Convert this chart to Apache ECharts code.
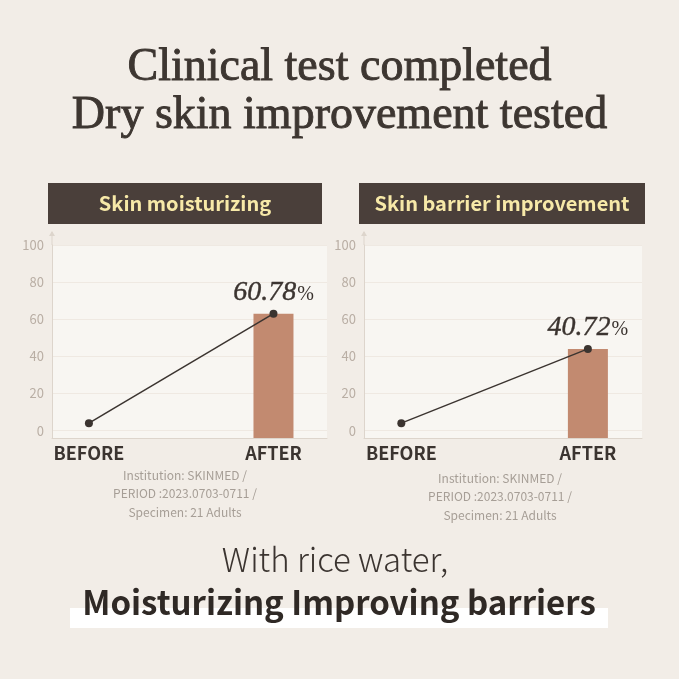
<!DOCTYPE html>
<html>
<head>
<meta charset="utf-8">
<script src="https://cdn.jsdelivr.net/npm/echarts@6/dist/echarts.min.js"></script>
<style>
  html, body { margin: 0; padding: 0; background: #f2ede7; }
  #main { width: 679px; height: 679px; }
</style>
</head>
<body>
<div id="main"></div>
<script>
var categories = ['BEFORE', 'AFTER'];
var panelTitles = ['Skin moisturizing', 'Skin barrier improvement'];
var moistureValues = [4, 63];
var barrierValues = [4, 44];
var resultLabels = ['60.78', '40.72'];
var yTicks = [0, 20, 40, 60, 80, 100];
var titleLines = ['Clinical test completed', 'Dry skin improvement tested'];
var noteLines = ['Institution: SKINMED /', 'PERIOD :2023.0703-0711 /', 'Specimen: 21 Adults'];
var bottomLines = ['With rice water,', 'Moisturizing Improving barriers'];

var SANS = '"Noto Sans CJK KR", "Noto Sans", sans-serif';
var SERIF = '"Liberation Serif", "DejaVu Serif", serif';
var DARK = '#3b3430';
var AXIS = '#ddd5cc';

var myChart = echarts.init(document.getElementById('main'));

function makeX(idx) {
    return {
        type: 'value', gridIndex: idx, min: -0.2, max: 1.29,
        axisLine: { show: true, onZero: false, lineStyle: { color: AXIS, width: 1 } },
        axisTick: { show: false, customValues: [0, 1] },
        splitLine: { show: false },
        axisLabel: {
            customValues: [0, 1], margin: 6,
            formatter: function (v) { return categories[Math.round(v)]; },
            color: DARK, fontFamily: SANS, fontWeight: 'bold', fontSize: 18
        }
    };
}

function makeY(idx) {
    return {
        type: 'value', gridIndex: idx, min: -4, max: 100, startValue: -4,
        axisLine: { show: true, onZero: false, lineStyle: { color: AXIS, width: 1 } },
        axisTick: { show: false, customValues: yTicks },
        splitLine: { show: true, lineStyle: { color: '#efe9e2', width: 1 } },
        axisLabel: {
            customValues: yTicks, margin: 8,
            color: '#b9aea4', fontFamily: SANS, fontSize: 13
        }
    };
}

function makeSeries(idx, values) {
    return [
        {
            type: 'bar', xAxisIndex: idx, yAxisIndex: idx,
            barWidth: 40,
            itemStyle: { color: '#c28a70' },
            data: [[1, values[1]]]
        },
        {
            type: 'line', xAxisIndex: idx, yAxisIndex: idx, z: 5,
            symbol: 'circle', symbolSize: 8,
            lineStyle: { color: DARK, width: 1.5 },
            itemStyle: { color: DARK },
            data: values.map(function (v, i) { return [i, v]; }),
            label: {
                show: true, position: 'top', distance: 3,
                formatter: function (p) {
                    return p.dataIndex === 1 ? '{n|' + resultLabels[idx] + '}{p|%}' : '';
                },
                rich: {
                    n: { fontFamily: SERIF, fontStyle: 'italic', fontSize: 28, color: DARK,
                         textBorderColor: DARK, textBorderWidth: 0.4 },
                    p: { fontFamily: SERIF, fontSize: 20, color: DARK, padding: [4, 0, 0, 1] }
                }
            }
        }
    ];
}

var headerBoxes = [[48, 274], [359, 286]];
var graphics = [];
titleLines.forEach(function (t, i) {
    graphics.push({
        type: 'text', left: 'center', top: 44 + i * 48,
        style: { text: t, font: '46px ' + SERIF, fill: '#3d3631', stroke: '#3d3631', lineWidth: 0.9 }
    });
});
headerBoxes.forEach(function (b, i) {
    graphics.push({
        type: 'rect', shape: { x: b[0], y: 183, width: b[1], height: 41 },
        style: { fill: '#4a3f3a' }
    });
    graphics.push({
        type: 'text', x: b[0] + b[1] / 2, y: 203,
        style: {
            text: panelTitles[i], fill: '#f7e9a8', font: 'bold 20px ' + SANS,
            textAlign: 'center', textVerticalAlign: 'middle'
        }
    });
});
[[52, 232], [364, 232]].forEach(function (p) {
    graphics.push({
        type: 'line', shape: { x1: p[0], y1: p[1], x2: p[0], y2: 245 },
        style: { stroke: AXIS, lineWidth: 1 }
    });
    graphics.push({
        type: 'polygon', shape: { points: [[p[0] - 3, p[1] + 4], [p[0], p[1] - 1], [p[0] + 3, p[1] + 4]] },
        style: { fill: AXIS }
    });
});
[[185, 493.5], [500, 496.5]].forEach(function (c) {
    graphics.push({
        type: 'text', x: c[0], y: c[1],
        style: {
            text: noteLines.join('\n'), fill: '#a69e96', font: '12px ' + SANS,
            lineHeight: 18.5, textAlign: 'center', textVerticalAlign: 'middle'
        }
    });
});
graphics.push({
    type: 'rect', shape: { x: 70, y: 608, width: 538, height: 20 },
    style: { fill: '#ffffff' }
});
graphics.push({
    type: 'text', x: 335, y: 559,
    style: {
        text: bottomLines[0], fill: DARK, font: '300 33px ' + SANS,
        textAlign: 'center', textVerticalAlign: 'middle'
    }
});
graphics.push({
    type: 'text', x: 339, y: 602,
    style: {
        text: bottomLines[1], fill: '#2f2925', font: 'bold 33px ' + SANS,
        textAlign: 'center', textVerticalAlign: 'middle'
    }
});

var option = {
    backgroundColor: '#f2ede7',
    animation: false,
    grid: [
        { left: 52, right: 352, top: 245, bottom: 241, show: true, backgroundColor: '#f8f6f2', borderWidth: 0 },
        { left: 364, right: 37, top: 245, bottom: 241, show: true, backgroundColor: '#f8f6f2', borderWidth: 0 }
    ],
    xAxis: [makeX(0), makeX(1)],
    yAxis: [makeY(0), makeY(1)],
    series: makeSeries(0, moistureValues).concat(makeSeries(1, barrierValues)),
    graphic: graphics
};

myChart.setOption(option);
</script>
</body>
</html>
